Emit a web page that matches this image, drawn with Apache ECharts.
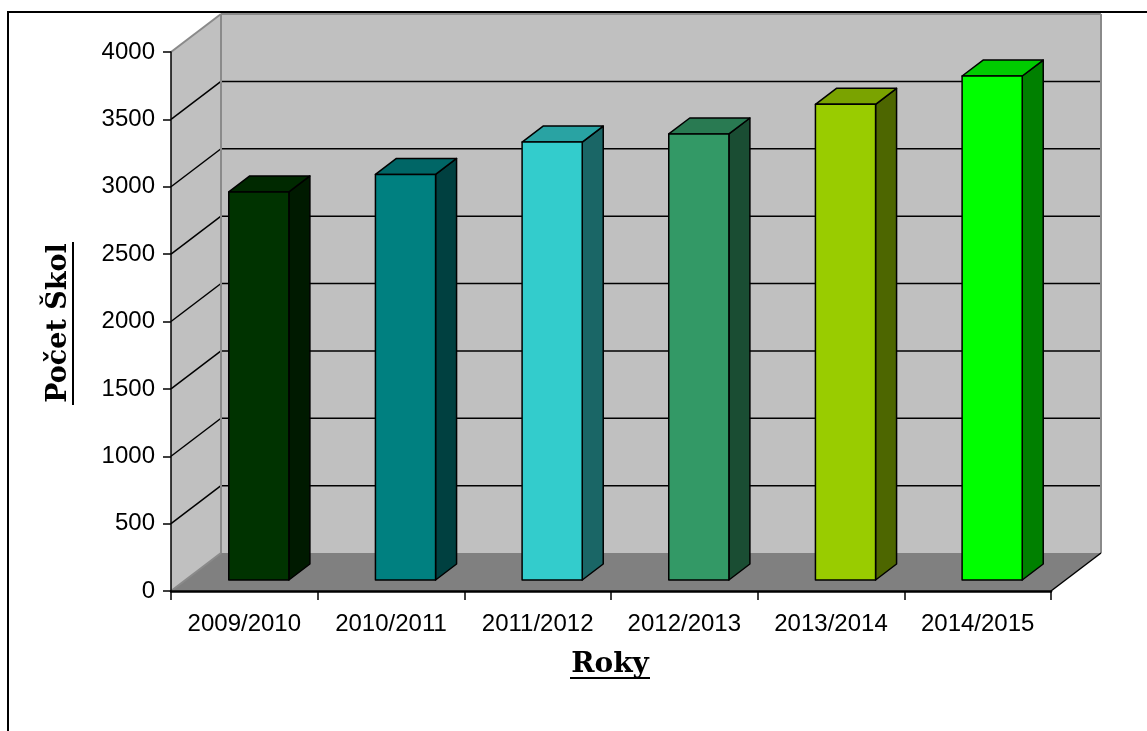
<!DOCTYPE html>
<html>
<head>
<meta charset="utf-8">
<script src="https://cdn.jsdelivr.net/npm/echarts@6/dist/echarts.min.js"></script>
<style>
  html, body { margin: 0; padding: 0; background: #ffffff; }
  #chart { width: 1147px; height: 731px; }
</style>
</head>
<body>
<div id="chart"></div>
<script>
// School years and number of schools per year
const categories = ['2009/2010', '2010/2011', '2011/2012', '2012/2013', '2013/2014', '2014/2015'];
const schoolCounts = [2880, 3010, 3250, 3310, 3530, 3740];
const barColors = ['#003300', '#008080', '#33cccc', '#339966', '#99cc00', '#00ff00'];
const yTicks = [0, 500, 1000, 1500, 2000, 2500, 3000, 3500, 4000];

// Depth of the 3D box (pixel offset of the back plane from the front plane)
const DX = 50, DY = -38;
// Bars sit between these depth fractions
const BAR_FRONT = 0.29, BAR_BACK = 0.71;

function shade(hex, k) {
  const n = parseInt(hex.slice(1), 16);
  const r = Math.round(((n >> 16) & 255) * k);
  const g = Math.round(((n >> 8) & 255) * k);
  const b = Math.round((n & 255) * k);
  return 'rgb(' + r + ',' + g + ',' + b + ')';
}

function renderWalls(params, api) {
  const cs = params.coordSys;
  const x0 = cs.x, x1 = cs.x + cs.width;
  const yBase = api.coord([0, yTicks[0]])[1];
  const yTop = api.coord([0, yTicks[yTicks.length - 1]])[1];
  const children = [];
  // side wall, back wall, floor
  children.push({ type: 'polygon', shape: { points: [[x0, yTop], [x0 + DX, yTop + DY], [x0 + DX, yBase + DY], [x0, yBase]] },
    style: { fill: '#c0c0c0' } });
  children.push({ type: 'rect', shape: { x: x0 + DX, y: yTop + DY, width: cs.width, height: yBase - yTop },
    style: { fill: '#c0c0c0' } });
  children.push({ type: 'polygon', shape: { points: [[x0, yBase], [x1, yBase], [x1 + DX, yBase + DY], [x0 + DX, yBase + DY]] },
    style: { fill: '#808080' } });
  // gridlines on the back and side walls
  yTicks.slice(1, -1).forEach(function (v) {
    const y = api.coord([0, v])[1];
    children.push({ type: 'line', shape: { x1: x0 + DX, y1: y + DY, x2: x1 + DX, y2: y + DY },
      style: { stroke: '#000000', lineWidth: 1.5 } });
    children.push({ type: 'line', shape: { x1: x0, y1: y, x2: x0 + DX, y2: y + DY },
      style: { stroke: '#000000', lineWidth: 1.5 } });
  });
  // box edges
  const gray = { stroke: '#8a8a8a', lineWidth: 2 };
  children.push({ type: 'line', shape: { x1: x0, y1: yTop, x2: x0 + DX, y2: yTop + DY }, style: gray });
  children.push({ type: 'line', shape: { x1: x0 + DX, y1: yTop + DY, x2: x1 + DX, y2: yTop + DY }, style: gray });
  children.push({ type: 'line', shape: { x1: x1 + DX, y1: yTop + DY, x2: x1 + DX, y2: yBase + DY }, style: gray });
  children.push({ type: 'line', shape: { x1: x0 + DX, y1: yTop + DY, x2: x0 + DX, y2: yBase + DY }, style: gray });
  children.push({ type: 'line', shape: { x1: x0, y1: yBase, x2: x0 + DX, y2: yBase + DY }, style: gray });
  children.push({ type: 'line', shape: { x1: x1, y1: yBase, x2: x1 + DX, y2: yBase + DY },
    style: { stroke: '#000000', lineWidth: 1.5 } });
  return { type: 'group', children: children };
}

function renderBar(params, api) {
  const i = api.value(0);
  const top = api.coord([i, api.value(1)]);
  const base = api.coord([i, 0]);
  const band = api.size([1, 0])[0];
  const w = band * 0.41;
  const fx = DX * BAR_FRONT, fy = DY * BAR_FRONT;
  const bdx = DX * (BAR_BACK - BAR_FRONT), bdy = DY * (BAR_BACK - BAR_FRONT);
  const left = top[0] + fx - w / 2, right = left + w;
  const yt = top[1] + fy, yb = base[1] + fy;
  const color = barColors[params.dataIndex];
  const edge = { stroke: '#000000', lineWidth: 1.5, lineJoin: 'round' };
  return {
    type: 'group',
    children: [
      { type: 'polygon', shape: { points: [[right, yt], [right + bdx, yt + bdy], [right + bdx, yb + bdy], [right, yb]] },
        style: Object.assign({ fill: shade(color, 0.5) }, edge) },
      { type: 'polygon', shape: { points: [[left, yt], [left + bdx, yt + bdy], [right + bdx, yt + bdy], [right, yt]] },
        style: Object.assign({ fill: shade(color, 0.8) }, edge) },
      { type: 'rect', shape: { x: left, y: yt, width: w, height: yb - yt },
        style: Object.assign({ fill: color }, edge) }
    ]
  };
}

const chart = echarts.init(document.getElementById('chart'), null, { renderer: 'canvas' });
const option = {
  backgroundColor: '#ffffff',
  animation: false,
  grid: { left: 171, right: 96, top: 52, bottom: 140 },
  xAxis: {
    type: 'category',
    data: categories,
    z: 10,
    axisLine: { show: true, lineStyle: { color: '#000000', width: 2.5 } },
    axisTick: { show: true, interval: 0, length: 9, lineStyle: { color: '#000000', width: 1.5 } },
    axisLabel: { color: '#000000', fontFamily: 'Liberation Sans', fontSize: 24, margin: 21, interval: 0 },
    splitLine: { show: false }
  },
  yAxis: {
    type: 'value',
    min: 0, max: 4000, interval: 500,
    z: 10,
    axisLine: { show: true, lineStyle: { color: '#000000', width: 1.5 } },
    axisTick: { show: true, length: 8, lineStyle: { color: '#000000', width: 1.5 } },
    axisLabel: { color: '#000000', fontFamily: 'Liberation Sans', fontSize: 24, margin: 16,
      formatter: function (v) { return String(v); } },
    splitLine: { show: false }
  },
  graphic: [
    { type: 'rect', z: 100, silent: true,
      shape: { x: 8, y: 12, width: 1300, height: 900 },
      style: { fill: 'none', stroke: '#000000', lineWidth: 2 } },
    { type: 'text', x: 610, y: 665, z: 100,
      style: { text: 'Roky', font: 'bold 28px "DejaVu Serif"', fill: '#000000', textAlign: 'center', textVerticalAlign: 'middle' } },
    { type: 'line', z: 100, shape: { x1: 570, y1: 678, x2: 650, y2: 678 }, style: { stroke: '#000000', lineWidth: 2 } },
    { type: 'text', x: 59, y: 323, z: 100, rotation: Math.PI / 2,
      style: { text: 'Počet Škol', font: 'bold 27px "DejaVu Serif"', fill: '#000000', textAlign: 'center', textVerticalAlign: 'middle' } },
    { type: 'line', z: 100, shape: { x1: 73, y1: 242, x2: 73, y2: 405 }, style: { stroke: '#000000', lineWidth: 2 } }
  ],
  series: [
    { type: 'custom', name: 'walls', z: 1, clip: false, silent: true,
      renderItem: renderWalls, data: [[0, 0]], encode: { x: 0, y: 1 } },
    { type: 'custom', name: 'Počet Škol', z: 3, clip: false,
      renderItem: renderBar,
      data: categories.map(function (c, i) { return [i, schoolCounts[i]]; }),
      encode: { x: 0, y: 1 } }
  ]
};
chart.setOption(option);
</script>
</body>
</html>
